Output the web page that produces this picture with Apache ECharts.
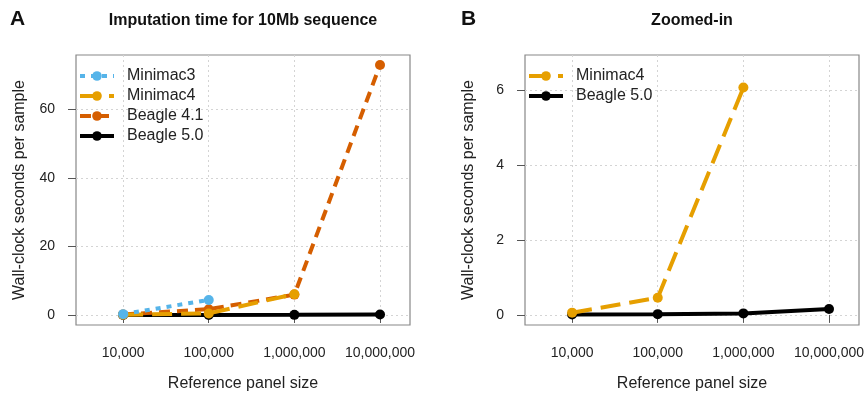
<!DOCTYPE html>
<html>
<head>
<meta charset="utf-8">
<script src="https://cdn.jsdelivr.net/npm/echarts@6/dist/echarts.min.js"></script>
<style>
html,body{margin:0;padding:0;background:#fff;}
#chart{width:866px;height:394px;}
</style>
</head>
<body>
<div id="chart"></div>
<script>
// ---- data ----
var panelSizes = [10000, 100000, 1000000, 10000000];
var xTickLabels = ['10,000', '100,000', '1,000,000', '10,000,000'];
var yTicksA = [0, 20, 40, 60];
var yTicksB = [0, 2, 4, 6];

var minimac3 = [0.25, 4.4];
var minimac4 = [0.06, 0.46, 6.08];
var beagle41 = [0.15, 1.7, 5.95, 73];
var beagle50 = [0.01, 0.02, 0.04, 0.16];

var titleA = 'Imputation time for 10Mb sequence';
var titleB = 'Zoomed-in';
var xName = 'Reference panel size';
var yName = 'Wall-clock seconds per sample';

// ---- build ----
function pts(vals) {
  return vals.map(function (v, i) { return [Math.log10(panelSizes[i]), v]; });
}
var xCustom = panelSizes.map(function (p) { return Math.log10(p); });
var FONT = '"Liberation Sans", Arial, Helvetica, sans-serif';

function xAxis(gi) {
  return {
    type: 'value', gridIndex: gi, min: 3.45, max: 7.35,
    name: xName, nameLocation: 'middle', nameGap: 51,
    nameTextStyle: { fontFamily: FONT, fontSize: 16, color: '#222' },
    axisLine: { show: false },
    axisTick: { show: true, length: 8, customValues: xCustom, lineStyle: { color: '#555', width: 1 } },
    axisLabel: {
      customValues: xCustom, margin: 21, fontFamily: FONT, fontSize: 14, color: '#222',
      formatter: function (v) {
        var idx = xCustom.findIndex(function (c) { return Math.abs(c - v) < 1e-6; });
        return idx >= 0 ? xTickLabels[idx] : '';
      }
    },
    splitLine: { show: true, lineStyle: { color: '#d4d4d4', type: [2, 3], width: 1 } }
  };
}
function yAxis(gi, mn, mx, ticks) {
  return {
    type: 'value', gridIndex: gi, min: mn, max: mx,
    name: yName, nameLocation: 'middle', nameGap: 48, nameRotate: 90,
    nameTextStyle: { fontFamily: FONT, fontSize: 16, color: '#222' },
    axisLine: { show: false },
    axisTick: { show: true, length: 8, customValues: ticks, lineStyle: { color: '#555', width: 1 } },
    axisLabel: { customValues: ticks, margin: 21, fontFamily: FONT, fontSize: 14, color: '#222' },
    splitLine: { show: true, lineStyle: { color: '#d4d4d4', type: [2, 3], width: 1 } }
  };
}
function line(name, vals, color, dash, xi, z) {
  return {
    name: name, type: 'line', xAxisIndex: xi, yAxisIndex: xi,
    data: pts(vals), symbol: 'circle', symbolSize: 10, showSymbol: true,
    z: z,
    itemStyle: { color: color },
    lineStyle: { color: color, width: 4, type: dash },
    animation: false
  };
}
var C3 = '#56B4E9', C4 = '#E69F00', B41 = '#D55E00', B50 = '#000000';

function legend(names, left) {
  return {
    data: names.map(function (n) { return { name: n }; }),
    orient: 'vertical', left: left, top: 63, itemWidth: 34, itemHeight: 12, itemGap: 4,
    lineStyle: { width: 4 },
    textStyle: { fontFamily: FONT, fontSize: 16, color: '#222', lineHeight: 16, padding: [0, 0, 0, 8] },
    selectedMode: false
  };
}

var chart = echarts.init(document.getElementById('chart'), null, { renderer: 'canvas' });
chart.setOption({
  animation: false,
  backgroundColor: '#fff',
  grid: [
    { left: 76, top: 55, width: 334, height: 270, show: true, borderColor: '#888', borderWidth: 1.2, containLabel: false, outerBoundsMode: 'none' },
    { left: 525, top: 55, width: 334, height: 270, show: true, borderColor: '#888', borderWidth: 1.2, containLabel: false, outerBoundsMode: 'none' }
  ],
  xAxis: [xAxis(0), xAxis(1)],
  yAxis: [yAxis(0, -2.92, 75.92, yTicksA), yAxis(1, -0.27, 6.95, yTicksB)],
  legend: [
    legend(['Minimac3', 'Minimac4', 'Beagle 4.1', 'Beagle 5.0'], 73),
    legend(['Minimac4', 'Beagle 5.0'], 522)
  ],
  graphic: [
    { type: 'text', left: 10, top: 9, style: { text: 'A', font: 'bold 21px ' + FONT, fill: '#111' } },
    { type: 'text', left: 461, top: 9, style: { text: 'B', font: 'bold 21px ' + FONT, fill: '#111' } },
    { type: 'text', x: 243, y: 21, style: { text: titleA, font: 'bold 16px ' + FONT, fill: '#111', align: 'center', verticalAlign: 'middle' } },
    { type: 'text', x: 692, y: 21, style: { text: titleB, font: 'bold 16px ' + FONT, fill: '#111', align: 'center', verticalAlign: 'middle' } }
  ],
  series: [
    line('Beagle 5.0', beagle50, B50, 'solid', 0, 2),
    line('Beagle 4.1', beagle41, B41, [11, 7], 0, 3),
    line('Minimac4', minimac4, C4, [20, 9], 0, 4),
    line('Minimac3', minimac3, C3, [5, 6], 0, 5),
    line('Beagle 5.0', beagle50, B50, 'solid', 1, 2),
    line('Minimac4', minimac4, C4, [20, 9], 1, 4)
  ]
});
</script>
</body>
</html>
